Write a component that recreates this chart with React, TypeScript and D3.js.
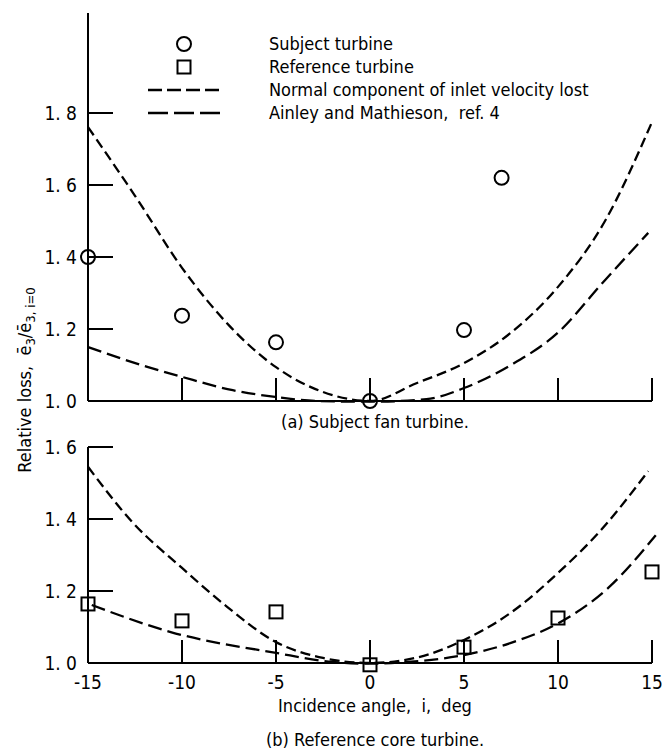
import React from 'react';
import * as d3 from 'd3';

// incidence angle, deg
const xTicks = [-15, -10, -5, 0, 5, 10, 15];
const topYTicks = [1.0, 1.2, 1.4, 1.6, 1.8];
const botYTicks = [1.0, 1.2, 1.4, 1.6];

// (a) subject fan turbine
const subjectI = [-15, -10, -5, 0, 5, 7];
const subjectLoss = [1.4, 1.237, 1.163, 1.0, 1.197, 1.62];
const fanNormalI = [-15, -12.5, -10, -7.5, -5, -2.5, 0, 2.5, 5, 7.5, 10, 12.5, 15];
const fanNormalLoss = [1.761, 1.57, 1.37, 1.21, 1.094, 1.025, 1.0, 1.05, 1.105, 1.19, 1.317, 1.5, 1.775];
const fanAinleyI = [-15, -11.8, -10, -7.3, -5, -2.8, 0, 3, 5, 7.5, 10, 12.4, 14.8];
const fanAinleyLoss = [1.15, 1.094, 1.067, 1.03, 1.011, 1.0, 0.998, 1.005, 1.036, 1.1, 1.19, 1.33, 1.467];

// (b) reference core turbine
const refI = [-15, -10, -5, 0, 5, 10, 15];
const refLoss = [1.164, 1.117, 1.142, 0.995, 1.044, 1.125, 1.253];
const coreNormalI = [-15, -12.6, -10, -7.6, -5, -2.5, 0, 2.5, 5, 7.5, 10, 12.3, 14.8];
const coreNormalLoss = [1.545, 1.389, 1.264, 1.156, 1.058, 1.014, 1.0, 1.015, 1.064, 1.14, 1.25, 1.37, 1.533];
const coreAinleyI = [-14.8, -10.6, -5, -2, 0, 2, 5, 7.5, 10, 12.7, 15.2];
const coreAinleyLoss = [1.161, 1.086, 1.028, 1.003, 0.998, 1.003, 1.022, 1.056, 1.11, 1.21, 1.355];

const legendItems = [
  'Subject turbine',
  'Reference turbine',
  'Normal component of inlet velocity lost',
  'Ainley and Mathieson,  ref. 4',
];

const FONT = '"DejaVu Sans Condensed", "Liberation Sans Narrow", "DejaVu Sans", sans-serif';
const SHORT_DASH = '10,5';
const LONG_DASH = '14,6';
const TXT = 18;

const W = 662;
const H = 753;

const x = d3.scaleLinear().domain([-15, 15]).range([88, 652]);
const yTop = d3.scaleLinear().domain([1.0, 1.8]).range([401, 113]);
const yBot = d3.scaleLinear().domain([1.0, 1.6]).range([663, 447]);

const pairs = (a: number[], b: number[]) => a.map((v, i) => [v, b[i]] as [number, number]);

function curvePath(xs: number[], ys: number[], y: d3.ScaleLinear<number, number>) {
  return d3.line<[number, number]>()
    .x(d => x(d[0]))
    .y(d => y(d[1]))
    .curve(d3.curveMonotoneX)(pairs(xs, ys)) || '';
}

const Panel: React.FC<{
  y: d3.ScaleLinear<number, number>;
  yTicks: number[];
  axisTop: number;
}> = ({ y, yTicks, axisTop }) => {
  const base = y(1.0);
  return (
    <g>
      <line x1={x(-15)} x2={x(-15)} y1={axisTop} y2={base} stroke="#000" strokeWidth={2} />
      <line x1={x(-15)} x2={x(15)} y1={base} y2={base} stroke="#000" strokeWidth={1.8} />
      {yTicks.map(t => (
        <g key={t}>
          {t > 1.0 && (
            <line x1={x(-15)} x2={x(-15) + 25} y1={y(t)} y2={y(t)} stroke="#000" strokeWidth={2} />
          )}
          <text x={77} y={y(t) + 7} textAnchor="end" fontSize={19} fontFamily={FONT}>
            {t.toFixed(1).replace('.', '. ')}
          </text>
        </g>
      ))}
      {xTicks.filter(t => t > -15).map(t => (
        <line key={t} x1={x(t)} x2={x(t)} y1={base} y2={base - 23} stroke="#000" strokeWidth={2} />
      ))}
    </g>
  );
};

export default function App() {
  const circle = (cx: number, cy: number, key: string | number) => (
    <circle key={key} cx={cx} cy={cy} r={7} fill="none" stroke="#000" strokeWidth={2} />
  );
  const square = (cx: number, cy: number, key: string | number) => (
    <rect key={key} x={cx - 6.5} y={cy - 6.5} width={13} height={13} fill="none" stroke="#000" strokeWidth={2} />
  );

  return (
    <svg width={W} height={H} style={{ position: 'absolute', left: 0, top: 0, background: '#fff' }}>
      <rect width={W} height={H} fill="#fff" />

      {/* (a) subject fan turbine */}
      <Panel y={yTop} yTicks={topYTicks} axisTop={13} />
      <path d={curvePath(fanNormalI, fanNormalLoss, yTop)} fill="none" stroke="#000" strokeWidth={2.3} strokeDasharray={SHORT_DASH} />
      <path d={curvePath(fanAinleyI, fanAinleyLoss, yTop)} fill="none" stroke="#000" strokeWidth={2.3} strokeDasharray={LONG_DASH} />
      {subjectI.map((v, i) => circle(x(v), yTop(subjectLoss[i]), i))}

      {/* legend */}
      <g fontFamily={FONT} fontSize={TXT}>
        {circle(184, 44, 'lc')}
        {square(184, 67, 'ls')}
        <line x1={148} x2={220} y1={90} y2={90} stroke="#000" strokeWidth={2.3} strokeDasharray="14,5" />
        <line x1={148} x2={220} y1={113} y2={113} stroke="#000" strokeWidth={2.3} strokeDasharray="20,6" />
        {legendItems.map((s, i) => (
          <text key={s} x={269} y={50 + i * 23} style={{ whiteSpace: 'pre' }}>{s}</text>
        ))}
      </g>

      <text x={375} y={428} textAnchor="middle" fontSize={TXT} fontFamily={FONT}>(a) Subject fan turbine.</text>

      {/* (b) reference core turbine */}
      <Panel y={yBot} yTicks={botYTicks} axisTop={447} />
      <path d={curvePath(coreNormalI, coreNormalLoss, yBot)} fill="none" stroke="#000" strokeWidth={2.3} strokeDasharray={SHORT_DASH} />
      <path d={curvePath(coreAinleyI, coreAinleyLoss, yBot)} fill="none" stroke="#000" strokeWidth={2.3} strokeDasharray={LONG_DASH} />
      {refI.map((v, i) => square(x(v), yBot(refLoss[i]), i))}

      {xTicks.map(t => (
        <text key={t} x={x(t)} y={689} textAnchor="middle" fontSize={19} fontFamily={FONT}>{t}</text>
      ))}
      <text x={375} y={712} textAnchor="middle" fontSize={TXT} fontFamily={FONT} style={{ whiteSpace: 'pre' }}>Incidence angle,  i,  deg</text>
      <text x={375} y={746} textAnchor="middle" fontSize={TXT} fontFamily={FONT}>(b) Reference core turbine.</text>

      {/* y axis title */}
      <text transform="translate(31,380) rotate(-90)" textAnchor="middle" fontSize={TXT} fontFamily={FONT} style={{ whiteSpace: 'pre' }}>
        Relative loss,  ē<tspan fontSize={13} dy={4}>3</tspan>
        <tspan dy={-4}>/ē</tspan>
        <tspan fontSize={13} dy={4}>3, i=0</tspan>
      </text>
    </svg>
  );
}
